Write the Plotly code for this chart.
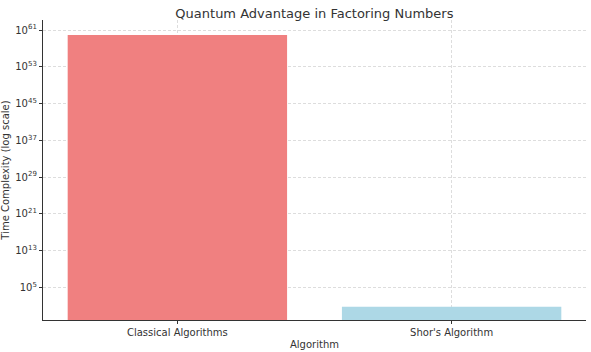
import plotly.graph_objects as go

categories = ["Classical Algorithms", "Shor's Algorithm"]
values = [8e59, 6.0]
colors = ["#F08080", "#ADD8E6"]
tick_exponents = [5, 13, 21, 29, 37, 45, 53, 61]

tickvals = [10.0 ** e for e in tick_exponents]
ticktext = [f"10<sup>{e}</sup>" for e in tick_exponents]

fig = go.Figure()
fig.add_trace(go.Bar(x=categories, y=values, marker_color=colors,
                     marker_line_width=0, width=0.8))

axis_font = dict(family="DejaVu Sans", size=10, color="#333333")
fig.update_layout(
    width=591, height=352,
    margin=dict(l=43, r=5, t=20, b=32),
    paper_bgcolor="white", plot_bgcolor="white",
    showlegend=False,
    bargap=0.2,
    title=dict(text="Quantum Advantage in Factoring Numbers", x=0.532, xanchor="center",
               y=0.975, yanchor="top",
               font=dict(family="DejaVu Sans", size=13, color="#333333")),
    font=axis_font,
)
fig.update_xaxes(
    range=[-0.49, 1.49],
    showline=True, linecolor="#333333", linewidth=1.2,
    ticks="outside", ticklen=3, tickcolor="#333333",
    showgrid=True, gridcolor="#DDDDDD", griddash="3px,2px", gridwidth=0.7,
    title=dict(text="Algorithm", font=axis_font, standoff=3),
    tickfont=axis_font,
)
fig.update_yaxes(
    type="log", range=[-2.12, 63.18],
    tickvals=tickvals, ticktext=ticktext,
    showline=True, linecolor="#333333", linewidth=1.2,
    ticks="outside", ticklen=3, tickcolor="#333333",
    showgrid=True, gridcolor="#DDDDDD", griddash="3px,2px", gridwidth=0.7,
    zeroline=False,
    title=dict(text="Time Complexity (log scale)", font=axis_font, standoff=3),
    tickfont=axis_font,
)

fig.write_html("out.html")
